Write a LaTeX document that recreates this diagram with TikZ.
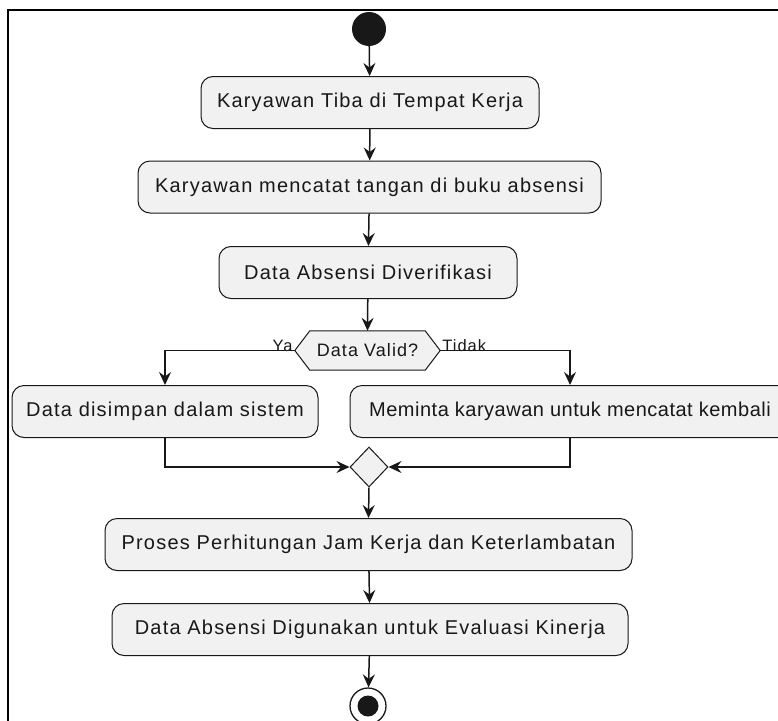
\documentclass[tikz,border=0pt]{standalone}
\usepackage{fontspec}
\setmainfont{Liberation Sans}[LetterSpace=6]
\usetikzlibrary{arrows.meta,shapes.geometric,backgrounds}
\definecolor{boxfill}{HTML}{F1F1F1}
\definecolor{edgecol}{HTML}{181818}
\begin{document}
\begin{tikzpicture}[x=1pt,y=-1pt,
  act/.style={draw=edgecol, line width=1pt, fill=boxfill, rounded corners=12pt,
    minimum height=52pt, inner sep=0pt, font=\fontsize{20}{24}\selectfont, text=edgecol},
  arr/.style={draw=edgecol, line width=1.5pt, -{Stealth[length=13pt,width=12pt,inset=4.5pt]}},
  lab/.style={font=\fontsize{16.5}{19}\selectfont, text=edgecol, inner sep=1pt}]
\useasboundingbox (0,0) rectangle (778,720);
\draw[line width=2pt, black] (8,10) rectangle (800,745);

\node[circle, fill=edgecol, minimum size=34pt, inner sep=0pt] (start) at (369,29) {};
\node[act, minimum width=338pt] (b1) at (370,102.5) {Karyawan Tiba di Tempat Kerja};
\node[act, minimum width=463pt] (b2) at (369.5,187) {Karyawan mencatat tangan di buku absensi};
\node[act, minimum width=298pt] (b3) at (368,272.5) {Data Absensi Diverifikasi};
\node[minimum width=145pt, minimum height=39pt, inner sep=0pt,
  font=\fontsize{18}{21}\selectfont, text=edgecol] (dec) at (367.5,350.5) {Data Valid?};
\begin{scope}[on background layer]
\draw[draw=edgecol, line width=1pt, fill=boxfill] (dec.west) -- ([xshift=15pt]dec.north west) -- ([xshift=-15pt]dec.north east) -- (dec.east) -- ([xshift=-15pt]dec.south east) -- ([xshift=15pt]dec.south west) -- cycle;
\end{scope}
\node[act, minimum width=306pt] (left) at (165,411.5) {Data disimpan dalam sistem};
\node[act, minimum width=440pt] (right) at (570,411.5) {\addfontfeatures{LetterSpace=2.5}Meminta karyawan untuk mencatat kembali};
\node[diamond, draw=edgecol, line width=1pt, fill=boxfill, minimum width=38pt, minimum height=40pt, inner sep=0pt] (merge) at (369,467) {};
\node[act, minimum width=527pt] (proses) at (368.5,544.5) {Proses Perhitungan Jam Kerja dan Keterlambatan};
\node[act, minimum width=516pt] (dabs) at (370,629.5) {Data Absensi Digunakan untuk Evaluasi Kinerja};
\node[circle, draw=edgecol, line width=1.3pt, fill=white, minimum size=36pt, inner sep=0pt] (end) at (368,706) {};
\node[circle, fill=edgecol, minimum size=21pt, inner sep=0pt] (endin) at (end.center) {};

\draw[arr] (start) -- (b1);
\draw[arr] (b1) -- (b2);
\draw[arr] (b2) -- (b3);
\draw[arr] (b3) -- (dec.north);
\draw[arr] (dec.west) -| (left.north);
\draw[arr] (dec.east) -| (right.north);
\node[lab, anchor=south east] (ya) at ([xshift=-1pt,yshift=-2pt]dec.west) {Ya};
\node[lab, anchor=south west] (tidak) at ([xshift=1pt,yshift=-2pt]dec.east) {Tidak};
\draw[arr] (left.south) |- (merge.west);
\draw[arr] (right.south) |- (merge.east);
\draw[arr] (merge.south) -- (proses.north);
\draw[arr] (proses) -- (dabs);
\draw[arr] (dabs) -- (end);
\end{tikzpicture}
\end{document}
